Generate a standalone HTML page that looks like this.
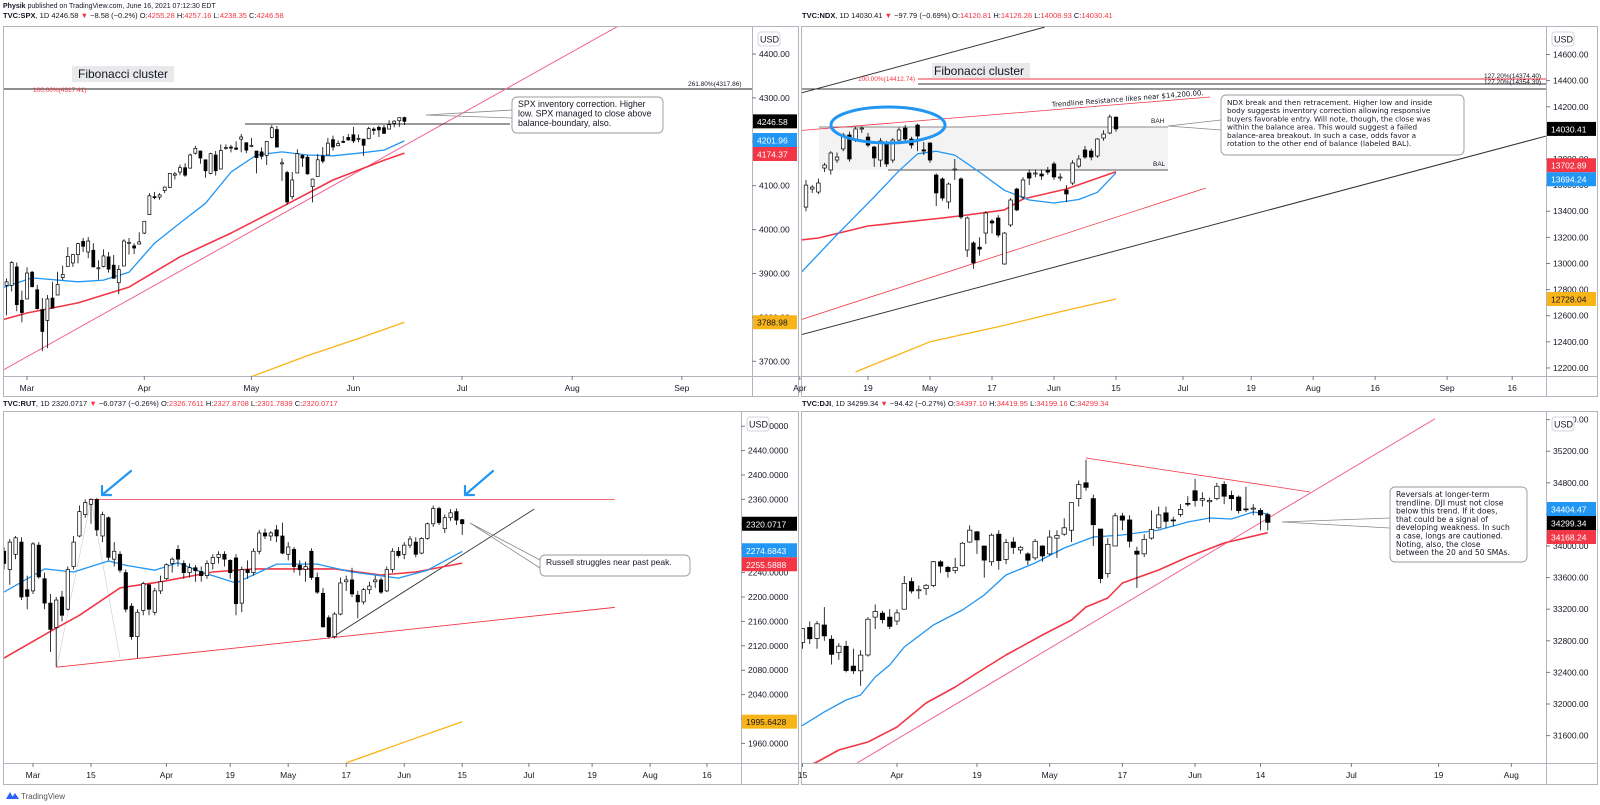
<!DOCTYPE html>
<html><head><meta charset="utf-8"><style>
html,body{margin:0;padding:0;background:#fff;}
svg{display:block;font-family:"Liberation Sans",sans-serif;}
.ax{font-size:8.5px;fill:#131722;}
</style></head><body>
<svg id="c" xmlns="http://www.w3.org/2000/svg" width="1600" height="805" viewBox="0 0 1600 805">
<rect x="0" y="0" width="1600" height="805" fill="#fff"/>
<text x="3" y="8" font-size="7px" fill="#131722"><tspan font-weight="bold">Physik</tspan> published on TradingView.com, June 16, 2021 07:12:30 EDT</text>
<text x="3" y="18" font-size="7.5px" fill="#131722"><tspan font-weight="bold">TVC:SPX</tspan>, 1D 4246.58 <tspan fill="#f23645">▼</tspan> −8.58 (−0.2%) O:<tspan fill="#f23645">4255.28</tspan> H:<tspan fill="#f23645">4257.16</tspan> L:<tspan fill="#f23645">4238.35</tspan> C:<tspan fill="#f23645">4246.58</tspan></text>
<text x="802" y="18" font-size="7.5px" fill="#131722"><tspan font-weight="bold">TVC:NDX</tspan>, 1D 14030.41 <tspan fill="#f23645">▼</tspan> −97.79 (−0.69%) O:<tspan fill="#f23645">14120.81</tspan> H:<tspan fill="#f23645">14126.26</tspan> L:<tspan fill="#f23645">14008.93</tspan> C:<tspan fill="#f23645">14030.41</tspan></text>
<text x="3" y="406" font-size="7.5px" fill="#131722"><tspan font-weight="bold">TVC:RUT</tspan>, 1D 2320.0717 <tspan fill="#f23645">▼</tspan> −6.0737 (−0.26%) O:<tspan fill="#f23645">2326.7611</tspan> H:<tspan fill="#f23645">2327.8708</tspan> L:<tspan fill="#f23645">2301.7839</tspan> C:<tspan fill="#f23645">2320.0717</tspan></text>
<text x="802" y="406" font-size="7.5px" fill="#131722"><tspan font-weight="bold">TVC:DJI</tspan>, 1D 34299.34 <tspan fill="#f23645">▼</tspan> −94.42 (−0.27%) O:<tspan fill="#f23645">34397.10</tspan> H:<tspan fill="#f23645">34419.95</tspan> L:<tspan fill="#f23645">34199.16</tspan> C:<tspan fill="#f23645">34299.34</tspan></text>
<g>
<path d="M6 799 L10 792 L14 799 Z M11 799 L15 793 L19 799 Z" fill="#2962ff"/>
<text x="21" y="799" font-size="8px" fill="#555">TradingView</text>
</g>
<defs>
<clipPath id="clipSpx"><rect x="4" y="27" width="748" height="349"/></clipPath>
<clipPath id="clipNdx"><rect x="802" y="27" width="744" height="349"/></clipPath>
<clipPath id="clipRut"><rect x="4" y="412" width="737" height="351"/></clipPath>
<clipPath id="clipDji"><rect x="802" y="412" width="744" height="351"/></clipPath>
</defs>
<g id="layer"></g>
</svg>
<script>
const NS="http://www.w3.org/2000/svg";
const days=["02-22","02-23","02-24","02-25","02-26",
"03-01","03-02","03-03","03-04","03-05","03-08","03-09","03-10","03-11","03-12","03-15","03-16","03-17","03-18","03-19","03-22","03-23","03-24","03-25","03-26","03-29","03-30","03-31",
"04-01","04-05","04-06","04-07","04-08","04-09","04-12","04-13","04-14","04-15","04-16","04-19","04-20","04-21","04-22","04-23","04-26","04-27","04-28","04-29","04-30",
"05-03","05-04","05-05","05-06","05-07","05-10","05-11","05-12","05-13","05-14","05-17","05-18","05-19","05-20","05-21","05-24","05-25","05-26","05-27","05-28",
"06-01","06-02","06-03","06-04","06-07","06-08","06-09","06-10","06-11","06-14","06-15"];

// ---------- SPX ----------
const spxFirst="02-22";
const spxOHLC=[[3885,3902,3874,3876],[3873,3889,3805,3881],[3873,3928,3859,3925],[3915,3925,3814,3829],[3839,3861,3789,3811],
[3842,3914,3842,3901],[3903,3906,3868,3870],[3863,3874,3818,3820],[3818,3844,3723,3768],[3793,3851,3730,3842],[3844,3881,3821,3821],[3851,3904,3851,3875],[3891,3918,3885,3898],[3916,3960,3916,3939],[3924,3944,3915,3943],
[3943,3970,3923,3968],[3973,3981,3949,3962],[3949,3983,3935,3974],[3953,3969,3914,3915],[3913,3930,3886,3913],[3916,3955,3914,3940],[3938,3949,3902,3910],[3919,3942,3889,3889],[3879,3919,3853,3909],[3917,3978,3917,3974],[3969,3981,3943,3971],[3963,3969,3944,3958],[3967,3994,3966,3972],
[3992,4018,3990,4019],[4034,4083,4034,4077],[4075,4086,4069,4073],[4074,4083,4068,4079],[4089,4098,4083,4097],[4096,4129,4095,4128],[4124,4131,4114,4127],[4131,4148,4124,4141],[4141,4151,4120,4124],[4140,4173,4140,4170],[4174,4191,4171,4185],
[4179,4180,4150,4163],[4159,4160,4118,4134],[4128,4175,4126,4173],[4170,4179,4123,4134],[4138,4194,4138,4180],[4185,4194,4182,4187],[4188,4193,4176,4186],[4186,4201,4181,4183],[4206,4218,4176,4211],[4198,4198,4174,4181],
[4191,4209,4188,4192],[4179,4179,4128,4164],[4177,4187,4160,4167],[4169,4202,4147,4201],[4210,4238,4208,4232],[4228,4236,4188,4188],[4150,4162,4111,4152],[4130,4134,4057,4063],[4075,4131,4069,4113],[4129,4183,4129,4173],
[4169,4171,4143,4163],[4165,4170,4125,4127],[4098,4116,4062,4115],[4121,4172,4121,4159],[4168,4188,4151,4156],[4170,4209,4170,4197],[4205,4214,4180,4188],[4191,4203,4190,4196],[4201,4213,4197,4200],[4210,4218,4203,4204],
[4216,4234,4197,4202],[4206,4217,4199,4208],[4206,4207,4168,4192],[4207,4234,4206,4230],[4229,4233,4216,4226],[4233,4237,4211,4227],[4232,4238,4219,4219],[4229,4249,4229,4239],[4242,4249,4233,4247],[4248,4255,4234,4255],[4255.28,4257.16,4238.35,4246.58]];
const spxSma20=[[-5,3867],[1,3890],[10,3881],[15,3885],[20,3903],[25,3969],[30,4015],[35,4060],[40,4131],[45,4170],[50,4177],[55,4170],[60,4168],[65,4174],[70,4181],[74,4201.96]];
const spxSma50=[[-5,3794],[0,3810],[10,3833],[20,3869],[30,3938],[40,3992],[50,4052],[60,4113],[70,4158],[74,4174.37]];
const spxSma200=[[40,3650],[44,3665],[55,3713],[65,3752],[74,3788.98]];
const spxTicks=[3700,3800,3900,4000,4100,4200,4300,4400];
const spxTimeLabels=["Mar","Apr","May","Jun","Jul","Aug","Sep"];
const spxTimeIdx=[0,23,44,64,85.3,106.9,128.4];
const spxLast=[[4246.58,"#000000"],[4201.96,"#2196f3"],[4174.37,"#f23645"],[3788.98,"#f9b418"]];

// ---------- NDX ----------
const ndxFirst="04-05";
const ndxOHLC=[[13432,13640,13400,13600],[13570,13600,13540,13585],[13547,13650,13530,13616],[13731,13770,13700,13754],[13716,13860,13680,13846],[13792,13850,13770,13815],[13877,14000,13860,13984],[13984,14010,13780,13800],[13945,14045,13930,14030],[14030,14050,14000,14037],
[13968,14000,13890,13907],[13892,13900,13740,13808],[13792,13960,13740,13938],[13915,13940,13740,13762],[13792,13960,13770,13945],[13945,14040,13930,14022],[14037,14060,13930,13953],[13953,13970,13880,13907],[14060,14070,13860,13976],[13870,13930,13830,13861],
[13922,13930,13770,13792],[13677,13690,13440,13540],[13647,13660,13480,13501],[13471,13620,13420,13608],[13720,13800,13640,13723],[13647,13660,13340,13356],[13103,13360,13050,13348],[13157,13170,12960,13004],[13125,13200,13060,13110],[13233,13400,13150,13387],
[13325,13340,13230,13310],[13348,13370,13200,13218],[12996,13240,12990,13233],[13295,13500,13280,13486],[13570,13580,13400,13410],[13509,13660,13490,13639],[13693,13720,13600,13654],[13685,13720,13660,13693],[13685,13720,13640,13670],[13712,13740,13680,13700],
[13762,13780,13640,13662],[13655,13690,13630,13662],[13562,13600,13470,13532],[13616,13790,13600,13769],[13746,13830,13730,13800],[13869,13900,13800,13815],[13861,13880,13790,13815],[13823,13960,13810,13953],[13961,14020,13940,13991],[13999,14140,13990,14122],[14120.81,14126.26,14008.93,14030.41]];
const ndxSma20=[[23,12920],[29,13220],[35,13510],[39,13710],[42,13840],[45,13860],[48,13830],[52,13700],[56,13560],[60,13486],[64,13463],[68,13490],[71,13545],[74,13694.24]];
const ndxSma50=[[23,13180],[26,13195],[34,13287],[46,13348],[50,13371],[56,13410],[59,13494],[66,13570],[74,13702.89]];
const ndxSma200=[[32,12170],[44,12400],[55,12515],[65,12630],[74,12728.04]];
const ndxTicks=[12200,12400,12600,12800,13000,13200,13400,13600,13800,14000,14200,14400,14600,14800];
const ndxTimeLabels=["Apr","19","May","17","Jun","15","Jul","19","Aug","16","Sep","16"];
const ndxTimeIdx=[23,34,44,54,64,74,84.8,95.8,105.8,115.8,127.4,137.9];
const ndxLast=[[14030.41,"#000000"],[13702.89,"#f23645"],[13694.24,"#2196f3"],[12728.04,"#f9b418"]];

// ---------- RUT ----------
const rutFirst="02-22";
const rutOHLC=[[2275,2282,2245,2255],[2245,2295,2220,2290],[2270,2300,2262,2297],[2290,2298,2195,2200],[2212,2235,2180,2201],
[2210,2290,2205,2287],[2285,2290,2230,2233],[2230,2240,2180,2190],[2190,2205,2110,2147],[2150,2200,2085,2195],[2200,2210,2160,2170],[2180,2250,2178,2245],[2250,2300,2245,2290],[2300,2350,2298,2340],[2335,2360,2330,2355],
[2352,2362,2320,2360],[2360,2362,2300,2310],[2300,2340,2290,2335],[2330,2332,2260,2265],[2262,2290,2250,2275],[2270,2275,2240,2244],[2240,2245,2175,2180],[2185,2190,2130,2135],[2135,2180,2100,2175],[2178,2225,2170,2222],[2220,2222,2170,2180],[2175,2215,2170,2210],[2210,2235,2205,2225],
[2230,2255,2228,2253],[2255,2265,2240,2262],[2278,2285,2250,2262],[2255,2260,2230,2240],[2240,2255,2232,2248],[2248,2252,2225,2243],[2242,2250,2225,2235],[2235,2260,2230,2255],[2255,2270,2245,2265],[2265,2275,2255,2270],[2270,2275,2250,2262],
[2260,2262,2230,2240],[2264,2270,2170,2189],[2190,2250,2175,2245],[2245,2260,2230,2240],[2240,2280,2235,2275],[2275,2310,2270,2305],[2305,2312,2295,2300],[2300,2308,2292,2305],[2310,2318,2290,2300],[2300,2322,2270,2272],
[2270,2290,2260,2282],[2278,2282,2240,2250],[2252,2260,2235,2245],[2245,2258,2225,2250],[2275,2280,2228,2232],[2232,2240,2205,2208],[2206,2215,2150,2151],[2166,2170,2132,2135],[2135,2175,2132,2172],[2172,2232,2170,2223],
[2225,2235,2210,2228],[2228,2248,2200,2205],[2203,2210,2165,2192],[2192,2215,2188,2212],[2212,2225,2205,2218],[2225,2235,2215,2228],[2228,2232,2205,2208],[2210,2250,2208,2245],[2245,2280,2240,2275],[2275,2282,2265,2268],
[2270,2290,2262,2285],[2285,2300,2280,2295],[2290,2298,2265,2270],[2272,2298,2270,2296],[2296,2322,2294,2320],[2320,2350,2315,2345],[2345,2348,2318,2322],[2312,2335,2305,2330],[2330,2344,2325,2338],[2340,2345,2318,2326],[2326.76,2327.87,2301.78,2320.07]];
const rutSma20=[[-5,2208],[2,2246],[7,2241],[13,2259],[16,2252],[21,2244],[25,2256],[29,2241],[35,2223],[42,2254],[49,2254],[55,2241],[63,2231],[68,2244],[74,2274.68]];
const rutSma50=[[-5,2100],[4,2149],[8,2170],[15,2215],[22,2225],[31,2241],[38,2246],[45,2246],[52,2246],[60,2236],[66,2241],[74,2255.59]];
const rutSma200=[[54,1928],[64,1962],[74,1995.64]];
const rutTicks=[1960,2000,2040,2080,2120,2160,2200,2240,2280,2320,2360,2400,2440,2480];
const rutTimeLabels=["Mar","15","Apr","19","May","17","Jun","15","Jul","19","Aug","16"];
const rutTimeIdx=[0,10,23,34,44,54,64,74,85.5,96.4,106.4,116.2];
const rutLast=[[2320.0717,"#000000"],[2274.6843,"#2196f3"],[2255.5888,"#f23645"],[1995.6428,"#f9b418"]];

// ---------- DJI ----------
const djiFirst="03-15";
const djiOHLC=[[32780,32960,32700,32953],[32970,33047,32760,32826],[32830,33050,32700,33015],[33000,33227,32800,32862],[32820,32870,32500,32628],[32650,32770,32560,32732],[32730,32800,32400,32423],[32480,32700,32380,32420],[32420,32680,32230,32619],[32620,33100,32600,33073],[33100,33260,32950,33171],[33150,33180,33020,33067],[33100,33200,32950,32982],
[33050,33200,33000,33153],[33200,33620,33200,33527],[33550,33600,33400,33430],[33440,33500,33330,33446],[33460,33520,33380,33503],[33500,33810,33480,33801],[33800,33820,33660,33745],[33730,33750,33600,33677],[33690,33850,33650,33730],[33750,34050,33740,34035],[34050,34260,34040,34200],
[34180,34190,33900,34077],[34000,34000,33600,33821],[33800,34160,33750,34137],[34150,34200,33700,33815],[33830,34090,33770,34043],[34050,34110,33900,33981],[33950,34000,33900,33984],[33900,33920,33760,33820],[33850,34090,33820,34060],[34000,34010,33800,33874],
[33900,34200,33880,34113],[34100,34200,33850,34133],[34150,34350,34130,34230],[34200,34550,34050,34548],[34600,34830,34500,34777],[34800,35091,34700,34742],[34600,34650,34000,34269],[34215,34215,33530,33587],[33650,34100,33600,34021],[34000,34420,34000,34382],
[34380,34420,34200,34327],[34330,34390,33980,34060],[33935,33990,33470,33896],[33900,34150,33860,34084],[34100,34450,34080,34208],[34230,34500,34220,34394],[34420,34500,34230,34312],[34330,34370,34250,34323],[34400,34530,34370,34464],[34540,34630,34500,34529],
[34700,34850,34500,34575],[34580,34680,34500,34600],[34560,34610,34300,34577],[34600,34800,34580,34756],[34780,34820,34530,34630],[34640,34700,34450,34599],[34620,34640,34410,34447],[34470,34750,34430,34466],[34480,34530,34390,34480],[34450,34480,34200,34393],[34397.10,34419.95,34199.16,34299.34]];
const djiSma20=[[9,31671],[13,31900],[16,32051],[18,32114],[20,32342],[22,32494],[24,32722],[28,33000],[32,33190],[35,33380],[38,33633],[42,33785],[46,33975],[50,34114],[54,34139],[59,34203],[63,34304],[66,34354],[69,34342],[72,34430],[74,34404.47]];
const djiSma50=[[9,31150],[12,31266],[15,31418],[19,31519],[23,31709],[27,32013],[31,32215],[34,32392],[38,32620],[43,32873],[47,33063],[49,33228],[52,33342],[54,33532],[59,33696],[63,33861],[68,34038],[74,34168.24]];
const djiTicks=[31600,32000,32400,32800,33200,33600,34000,34400,34800,35200,35600];
const djiTimeLabels=["15","Apr","19","May","17","Jun","14","Jul","19","Aug"];
const djiTimeIdx=[10,23,34,44,54,64,73,85.5,97.5,107.5];
const djiLast=[[34404.47,"#2196f3"],[34299.34,"#000000"],[34168.24,"#f23645"]];

// ---------- panels geometry ----------
const P={
 spx:{X:i=>27+i*5.1, Y:p=>54+(4400-p)*0.439, L:3, R:798, T:26, B:396, ax:752, tAx:376, clip:"clipSpx", cw:3, dec:2},
 ndx:{X:i=>930+(i-44)*6.2, Y:p=>159+(13800-p)*0.1306, L:801, R:1597, T:26, B:396, ax:1546, tAx:376, clip:"clipNdx", cw:3.6, dec:2},
 rut:{X:i=>33+i*5.8, Y:p=>597+(2200-p)*0.61, L:3, R:798, T:411, B:784, ax:741, tAx:763, clip:"clipRut", cw:3.4, dec:4},
 dji:{X:i=>897+(i-23)*7.27, Y:p=>546+(34000-p)*0.079, L:801, R:1597, T:411, B:784, ax:1546, tAx:763, clip:"clipDji", cw:4.4, dec:2}
};
const layer=document.getElementById("layer");
function el(tag,parent){const e=document.createElementNS(NS,tag);parent.appendChild(e);return e;}
function idxOf(d){return days.indexOf(d)-5;}

function frame(pn,name){
 const g=el("g",layer);
 
 
 const r=el("rect",g);
 r.setAttribute("x",pn.L+0.5);r.setAttribute("y",pn.T+0.5);r.setAttribute("width",pn.R-pn.L);r.setAttribute("height",pn.B-pn.T);
 r.setAttribute("fill","none");r.setAttribute("stroke","#b2b5be");
 
 
 const a=el("line",g);
 a.setAttribute("x1",pn.ax+0.5);a.setAttribute("x2",pn.ax+0.5);a.setAttribute("y1",pn.T);a.setAttribute("y2",pn.B);a.setAttribute("stroke","#b2b5be");
 
 
 const t=el("line",g);
 t.setAttribute("x1",pn.L);t.setAttribute("x2",pn.R);t.setAttribute("y1",pn.tAx+0.5);t.setAttribute("y2",pn.tAx+0.5);t.setAttribute("stroke","#b2b5be");
 
 
 const plot=el("g",g);
 plot.setAttribute("clip-path","url(#"+pn.clip+")");
 
 
 return {g,plot};
}
function spread(ys){
 // ys: array of {y,k}; separate so labels don't overlap (min gap 14), preserving group centre
 const s=ys.slice().sort((a,b)=>a.y-b.y);
 let groups=[];
 for(const it of s){
  const gph=groups[groups.length-1];
  if(gph && it.y < gph.start + gph.items.length*14){gph.items.push(it);}
  else groups.push({start:it.y,items:[it]});
  const last=groups[groups.length-1];
  const mean=last.items.reduce((a,b)=>a+b.y,0)/last.items.length;
  last.start=mean-(last.items.length-1)*7;
 }
 for(const gp of groups) gp.items.forEach((it,i)=>{it.d=gp.start+i*14;});
 return ys;
}
function priceAxis(pn,g,name,ticks,last){
 for(const v of ticks){
  const y=pn.Y(v); if(y<pn.T+6||y>pn.tAx-4) continue;
  const tk=el("line",g);
  tk.setAttribute("x1",pn.ax);tk.setAttribute("x2",pn.ax+4);tk.setAttribute("y1",y);tk.setAttribute("y2",y);tk.setAttribute("stroke","#787b86");
  
  
  const tx=el("text",g);
  tx.setAttribute("x",pn.ax+7);tx.setAttribute("y",y+3);tx.setAttribute("class","ax");
  tx.textContent=v.toFixed(pn.dec);
  
  
 }
 const pos=spread(last.map((l,k)=>({y:pn.Y(l[0]),k})));
 pos.forEach(({d,k})=>{
  const [v,c]=last[k]; const y=d;
  const r=el("rect",g);
  r.setAttribute("x",pn.ax+1);r.setAttribute("y",y-7);r.setAttribute("width",pn.R-pn.ax-2);r.setAttribute("height",14);r.setAttribute("fill",c);
  
  
  const tx=el("text",g);
  tx.setAttribute("x",pn.ax+5);tx.setAttribute("y",y+3.5);tx.setAttribute("font-size","8.5px");
  tx.setAttribute("fill",c==="#f9b418"?"#131722":"#fff");
  tx.textContent=v.toFixed(pn.dec);
  
  
 });
 const ub=el("rect",g);
 ub.setAttribute("x",pn.ax+6);ub.setAttribute("y",pn.T+6);ub.setAttribute("width",22);ub.setAttribute("height",14);ub.setAttribute("rx",3);
 ub.setAttribute("fill","#fff");ub.setAttribute("stroke","#d1d4dc");
 
 
 const ut=el("text",g);
 ut.setAttribute("x",pn.ax+8);ut.setAttribute("y",pn.T+16.5);ut.setAttribute("font-size","9px");ut.setAttribute("fill","#131722");
 ut.textContent="USD";
 
 
}
function timeAxis(pn,g,name,labels,idxs){
 labels.forEach((lb,k)=>{
  const x=pn.X(idxs[k]); if(x<pn.L-4||x>pn.ax-4) return;
  const tk=el("line",g);
  tk.setAttribute("x1",x);tk.setAttribute("x2",x);tk.setAttribute("y1",pn.tAx);tk.setAttribute("y2",pn.tAx+4);tk.setAttribute("stroke","#787b86");
  
  
  const tx=el("text",g);
  tx.setAttribute("x",x);tx.setAttribute("y",pn.tAx+15);tx.setAttribute("class","ax");tx.setAttribute("text-anchor","middle");
  tx.textContent=lb;
  
  
 });
}
function candles(pn,g,name,data,first){
 const s=idxOf(first);
 data.forEach((d,i)=>{
  const [o,h,l,c]=d; const x=pn.X(s+i);
  const w=el("line",g);
  w.setAttribute("x1",x);w.setAttribute("x2",x);w.setAttribute("y1",pn.Y(h));w.setAttribute("y2",pn.Y(l));w.setAttribute("stroke","#000");w.setAttribute("stroke-width",0.8);
  
  
  const up=c>=o; const yt=pn.Y(Math.max(o,c)); const yb=pn.Y(Math.min(o,c));
  const b=el("rect",g);
  b.setAttribute("x",x-pn.cw/2);b.setAttribute("y",yt);b.setAttribute("width",pn.cw);b.setAttribute("height",Math.max(1,yb-yt));
  b.setAttribute("fill",up?"#fff":"#000");b.setAttribute("stroke","#000");b.setAttribute("stroke-width",0.7);
  
  
 });
}
function line(pn,g,name,pts,color,wid){
 const p=el("polyline",g);
 p.setAttribute("points",pts.map(([i,v])=>pn.X(i).toFixed(1)+","+pn.Y(v).toFixed(1)).join(" "));
 p.setAttribute("fill","none");p.setAttribute("stroke",color);p.setAttribute("stroke-width",wid);p.setAttribute("stroke-linejoin","round");
 
 
 return p;
}
function seg(g,name,x1,y1,x2,y2,color,wid){
 const l=el("line",g);
 l.setAttribute("x1",x1);l.setAttribute("y1",y1);l.setAttribute("x2",x2);l.setAttribute("y2",y2);l.setAttribute("stroke",color);l.setAttribute("stroke-width",wid);
 
 
 return l;
}
function txt(g,name,x,y,s,size,color,extra){
 const t=el("text",g);
 t.setAttribute("x",x);t.setAttribute("y",y);t.setAttribute("font-size",size);t.setAttribute("fill",color);
 if(extra) for(const k in extra) t.setAttribute(k,extra[k]);
 t.textContent=s;
 
 
 return t;
}
function callout(g,name,bx,by,bw,bh,tipX,tipY,y1,y2,lines,font,size,lh){
 const pth=el("path",g);
 pth.setAttribute("d","M"+bx+","+y1+" L"+tipX+","+tipY+" L"+bx+","+y2);
 pth.setAttribute("fill","none");pth.setAttribute("stroke","#888");pth.setAttribute("stroke-width",0.8);
 
 
 const r=el("rect",g);
 r.setAttribute("x",bx);r.setAttribute("y",by);r.setAttribute("width",bw);r.setAttribute("height",bh);r.setAttribute("rx",5);
 r.setAttribute("fill","#fff");r.setAttribute("stroke","#999");r.setAttribute("stroke-width",0.9);
 
 
 lines.forEach((s,k)=>{
  const t=el("text",g);
  t.setAttribute("x",bx+6);t.setAttribute("y",by+10+k*lh);t.setAttribute("font-size",size);t.setAttribute("fill","#131722");t.setAttribute("font-family",font);
  t.textContent=s;
  
  
 });
}

// ===== SPX =====
{const pn=P.spx; const f=frame(pn,"spx"); const g=f.plot;
 seg(g,"spx-fib-line",4,89,752,89,"#4a4a4a",1.3);
 txt(g,"spx-fib-100-label",33,92,"100.00%(4317.41)","6.5px","#f23645");
 txt(g,"spx-fib-261-label",688,86,"261.80%(4317.86)","6.5px","#131722");
 const fb=el("rect",g);
 fb.setAttribute("x",72);fb.setAttribute("y",66);fb.setAttribute("width",102);fb.setAttribute("height",16);fb.setAttribute("fill","#e9e9eb");
 
 
 txt(g,"spx-fib-cluster-label",78,78,"Fibonacci cluster","12px","#131722");
 seg(g,"spx-trendline",pn.X(-4.7),pn.Y(3680),pn.X(130),pn.Y(4555),"#f06292",1);
 line(pn,g,"spx-sma200",spxSma200,"#f9b418",1.3);
 line(pn,g,"spx-sma50",spxSma50,"#f23645",1.6);
 line(pn,g,"spx-sma20",spxSma20,"#2196f3",1.3);
 seg(g,"spx-balance-line",245,124,510,124,"#333",1);
 candles(pn,g,"spx",spxOHLC,spxFirst);
 callout(g,"spx-note",512,97,151,36,426,115,110,118,["SPX inventory correction. Higher","low. SPX managed to close above","balance-boundary, also."],"Liberation Sans","8.8px",9.5);
 priceAxis(pn,f.g,"spx",spxTicks,spxLast);
 timeAxis(pn,f.g,"spx",spxTimeLabels,spxTimeIdx);
}
// ===== NDX =====
{const pn=P.ndx; const f=frame(pn,"ndx"); const g=f.plot;
 const bx=el("rect",g);
 bx.setAttribute("x",819);bx.setAttribute("y",127);bx.setAttribute("width",349);bx.setAttribute("height",43);bx.setAttribute("fill","#f3f3f4");
 
 
 seg(g,"ndx-bah-line",819,127,1168,127,"#888",0.9);
 seg(g,"ndx-bal-line",888,170,1168,170,"#555",1);
 txt(g,"ndx-bah-label",1151,123,"BAH","6.5px","#131722");
 txt(g,"ndx-bal-label",1153,166,"BAL","6.5px","#131722");
 seg(g,"ndx-upper-channel",pn.X(23.2),pn.Y(14305),pn.X(62.5),pn.Y(14810),"#333",1);
 seg(g,"ndx-fib-red-line",918,79,1546,79,"#f23645",0.9);
 seg(g,"ndx-fib-line-1",918,84,1546,84,"#333",0.9);
 seg(g,"ndx-fib-line-2",802,89,1546,89,"#333",0.9);
 txt(g,"ndx-fib-100-label",858,81,"100.00%(14412.74)","6.5px","#f23645");
 txt(g,"ndx-fib-127a-label",1484,78,"127.20%(14374.40)","6.5px","#131722");
 txt(g,"ndx-fib-127b-label",1484,84,"127.20%(14354.39)","6.5px","#131722");
 const fb=el("rect",g);
 fb.setAttribute("x",932);fb.setAttribute("y",63);fb.setAttribute("width",98);fb.setAttribute("height",15);fb.setAttribute("fill","#e9e9eb");
 
 
 txt(g,"ndx-fib-cluster-label",934,75,"Fibonacci cluster","12px","#131722");
 seg(g,"ndx-resistance-trendline",pn.X(22),pn.Y(14014),pn.X(89.2),pn.Y(14275),"#f23645",0.8);
 txt(g,"ndx-resistance-label",1052,107,"Trendline Resistance likes near $14,200.00.","7px","#131722",{transform:"rotate(-4.5 1052 107)","font-family":"DejaVu Sans"});
 seg(g,"ndx-lower-red-channel",pn.X(23),pn.Y(12567),pn.X(88.5),pn.Y(13578),"#f23645",0.8);
 seg(g,"ndx-long-trendline",pn.X(23),pn.Y(12452),pn.X(143.4),pn.Y(13976),"#333",1);
 line(pn,g,"ndx-sma200",ndxSma200,"#f9b418",1.3);
 line(pn,g,"ndx-sma50",ndxSma50,"#f23645",1.6);
 line(pn,g,"ndx-sma20",ndxSma20,"#2196f3",1.3);
 candles(pn,g,"ndx",ndxOHLC,ndxFirst);
 const el1=el("ellipse",g);
 el1.setAttribute("cx",888);el1.setAttribute("cy",125);el1.setAttribute("rx",57);el1.setAttribute("ry",18);
 el1.setAttribute("fill","none");el1.setAttribute("stroke","#2196f3");el1.setAttribute("stroke-width",3);
 
 
 callout(g,"ndx-note",1221,95,243,60,1168,126,120,130,["NDX break and then retracement. Higher low and inside","body suggests inventory correction allowing responsive","buyers favorable entry. Will note, though, the close was","within the balance area. This would suggest a failed","balance-area breakout. In such a case, odds favor a","rotation to the other end of balance (labeled BAL)."],"DejaVu Sans","7.3px",8.2);
 priceAxis(pn,f.g,"ndx",ndxTicks,ndxLast);
 timeAxis(pn,f.g,"ndx",ndxTimeLabels,ndxTimeIdx);
}
// ===== RUT =====
{const pn=P.rut; const f=frame(pn,"rut"); const g=f.plot;
 seg(g,"rut-fib-guide-1",pn.X(4.1),pn.Y(2085),pn.X(10),pn.Y(2360),"#ccc",0.6);
 seg(g,"rut-fib-guide-2",pn.X(10),pn.Y(2360),pn.X(15),pn.Y(2100),"#ccc",0.6);
 seg(g,"rut-peak-line",pn.X(10),pn.Y(2360),pn.X(100.3),pn.Y(2360),"#f23645",0.8);
 seg(g,"rut-support-line",pn.X(4.1),pn.Y(2085),pn.X(100.3),pn.Y(2183),"#f23645",0.9);
 seg(g,"rut-rising-trendline",pn.X(51.6),pn.Y(2134),pn.X(86.4),pn.Y(2344),"#333",0.9);
 line(pn,g,"rut-sma200",rutSma200,"#f9b418",1.3);
 line(pn,g,"rut-sma50",rutSma50,"#f23645",1.6);
 line(pn,g,"rut-sma20",rutSma20,"#2196f3",1.3);
 candles(pn,g,"rut",rutOHLC,rutFirst);
 for(const [nm,x0,y0,x1,y1] of [["rut-arrow-left",131,471,102,495],["rut-arrow-right",493,471,465,495]]){
  const a=el("path",g);
  a.setAttribute("d","M"+x0+","+y0+" L"+x1+","+y1+" M"+x1+","+y1+" l9,0 M"+x1+","+y1+" l0,-9");
  a.setAttribute("fill","none");a.setAttribute("stroke","#2196f3");a.setAttribute("stroke-width",2.2);a.setAttribute("stroke-linecap","round");
  
  
 }
 callout(g,"rut-note",540,555,150,21,470,523,560,568,["Russell struggles near past peak."],"Liberation Sans","8.5px",9);
 priceAxis(pn,f.g,"rut",rutTicks,rutLast);
 timeAxis(pn,f.g,"rut",rutTimeLabels,rutTimeIdx);
}
// ===== DJI =====
{const pn=P.dji; const f=frame(pn,"dji"); const g=f.plot;
 seg(g,"dji-rising-trendline",pn.X(17.5),pn.Y(31253),pn.X(97),pn.Y(35610),"#f06292",1);
 seg(g,"dji-descending-trendline",pn.X(49),pn.Y(35114),pn.X(79.8),pn.Y(34684),"#f23645",0.8);
 line(pn,g,"dji-sma50",djiSma50,"#f23645",1.6);
 line(pn,g,"dji-sma20",djiSma20,"#2196f3",1.3);
 candles(pn,g,"dji",djiOHLC,djiFirst);
 callout(g,"dji-note",1390,487,137,75,1282,522,518,528,["Reversals at longer-term","trendline. DJI must not close","below this trend. If it does,","that could be a signal of","developing weakness. In such","a case, longs are cautioned.","Noting, also, the close","between the 20 and 50 SMAs."],"DejaVu Sans","7.6px",8.3);
 priceAxis(pn,f.g,"dji",djiTicks,djiLast);
 timeAxis(pn,f.g,"dji",djiTimeLabels,djiTimeIdx);
}
</script>
</body></html>
